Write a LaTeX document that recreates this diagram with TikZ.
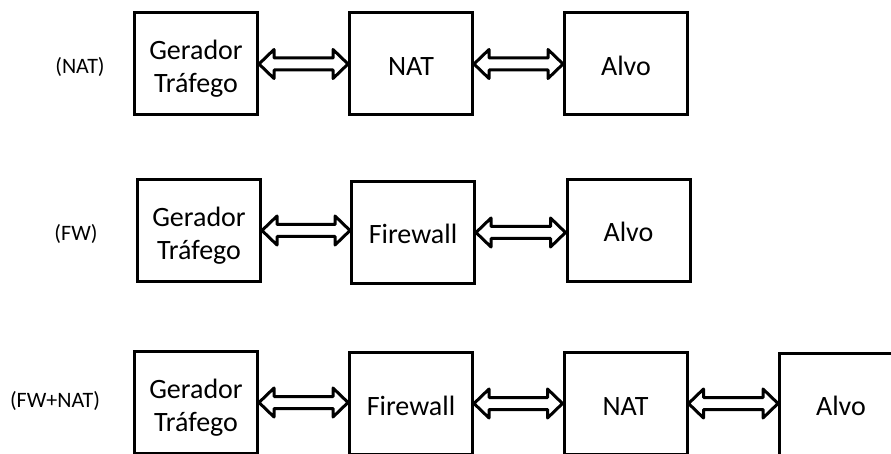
\documentclass[tikz,border=0pt]{standalone}
\usepackage{fontspec}
\setmainfont{Carlito}
\usetikzlibrary{calc}
\tikzset{
  blk/.style={draw, line width=3pt, minimum width=123pt, minimum height=102pt, inner sep=0pt,
    align=center, font=\fontsize{28}{33}\selectfont, text height=23pt, text depth=0pt},
  blktwo/.style={blk, text height=58pt, text depth=0pt},
  tag/.style={inner sep=0pt, font=\fontsize{22}{26}\selectfont},
  hollow/.style={draw, fill=white, line width=3pt, line join=round}
}
\newcommand\darrow[2]{%
  \path[hollow] ($(#1.east)$) -- ++(15pt,14.5pt) -- ++(0,-8.5pt)
    -- ($(#2.west |- #1.east)+(-15pt,6pt)$) -- ++(0,8.5pt) -- ($(#2.west |- #1.east)$)
    -- ++(-15pt,-14.5pt) -- ++(0,8.5pt)
    -- ($(#1.east)+(15pt,-6pt)$) -- ++(0,-8.5pt) -- cycle;}
\begin{document}
\begin{tikzpicture}[x=1pt,y=-1pt]
\useasboundingbox (0,0) rectangle (891,454);
\clip (0,0) rectangle (891,454);
% row 1
\node[tag] (l1) at (80,67) {(NAT)};
\node[blktwo] (g1) at (196,64) {Gerador\\Tráfego};
\node[blk] (n1) at (411,64) {NAT};
\node[blk] (a1) at (626,64) {Alvo};
% row 2
\node[tag] (l2) at (76,234) {(FW)};
\node[blktwo] (g2) at (199,230.5) {Gerador\\Tráfego};
\node[blk] (f2) at (413,232.5) {Firewall};
\node[blk] (a2) at (628.5,230.5) {Alvo};
% row 3
\node[tag] (l3) at (55,401) {(FW+NAT)};
\node[blktwo] (g3) at (196,402.5) {Gerador\\Tráfego};
\node[blk] (f3) at (411,403.5) {Firewall};
\node[blk] (n3) at (625.5,403.5) {NAT};
\node[blk] (a3) at (841,404) {Alvo};
% arrows
\darrow{g1}{n1}
\darrow{n1}{a1}
\darrow{g2}{f2}
\darrow{f2}{a2}
\darrow{g3}{f3}
\darrow{f3}{n3}
\darrow{n3}{a3}
\end{tikzpicture}
\end{document}
